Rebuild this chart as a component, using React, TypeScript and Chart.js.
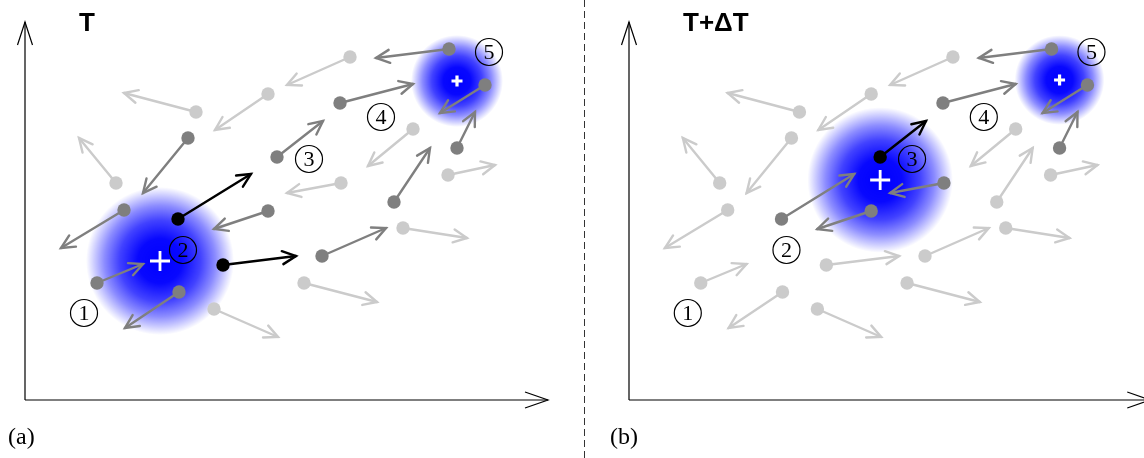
import React, { useEffect, useRef } from "react";
import { Chart, registerables } from "chart.js";

Chart.register(...registerables);

// Shared point positions (data units; origin = axes corner)
const pointX = [32.5, 42.4, 24.3, 17.1, 31.5, 46.0, 38.8, 43.2, 42.3, 36.9, 31.6, 25.2, 16.3, 9.1, 15.3, 24.3, 9.9, 37.8, 29.7, 19.8, 7.2, 15.4, 18.9, 27.9];
const pointY = [34.3, 35.1, 30.6, 28.8, 29.7, 31.5, 27.1, 25.2, 22.5, 19.8, 21.7, 24.3, 26.2, 21.7, 18.1, 18.9, 19.0, 17.2, 14.4, 13.5, 11.7, 10.8, 9.1, 11.7];
// Velocity arrow tips
const tipX = [26.2, 35.1, 19.0, 9.9, 38.8, 41.5, 34.3, 45.0, 47.0, 40.5, 26.2, 29.8, 11.8, 5.4, 22.6, 18.9, 3.6, 44.2, 36.1, 27.1, 11.8, 10.0, 25.3, 35.2];
const tipY = [31.5, 34.2, 27.0, 30.7, 31.6, 28.7, 23.4, 28.8, 23.5, 25.2, 20.7, 27.9, 20.7, 26.2, 22.6, 17.1, 15.2, 16.2, 17.2, 14.4, 13.6, 7.2, 6.3, 9.8];
// Shade of each point at time T and T+ΔT
const shadeA = ["light", "dark", "light", "light", "dark", "dark", "light", "dark", "light", "dark", "light", "dark", "dark", "light", "black", "dark", "dark", "light", "dark", "black", "dark", "dark", "light", "light"];
const shadeB = ["light", "dark", "light", "light", "dark", "dark", "light", "dark", "light", "light", "dark", "black", "light", "light", "dark", "dark", "light", "light", "light", "light", "light", "light", "light", "light"];

// Cluster density blobs
const blobAX = [13.5, 43.2];
const blobAY = [13.9, 31.9];
const blobAR = [7.4, 4.6];
const blobBX = [25.2, 43.2];
const blobBY = [22.0, 32.0];
const blobBR = [7.3, 4.5];

// Circled cluster labels
const labelX = [5.9, 15.8, 28.4, 35.6, 46.4];
const labelY = [8.7, 15.0, 24.1, 28.3, 34.8];
const labelText = ["1", "2", "3", "4", "5"];

const COLORS: Record<string, string> = {
  light: "#cbcbcb",
  dark: "#7f7f7f",
  black: "#000000",
};

type PanelCfg = {
  shades: string[];
  bx: number[];
  by: number[];
  br: number[];
  title: string;
  tag: string;
  tagX: number;
  padLeft: number;
  padRight: number;
  xMax: number;
  separator: boolean;
};

function drawArrowHead(ctx: CanvasRenderingContext2D, x0: number, y0: number, x1: number, y1: number, len: number, ang: number) {
  const a = Math.atan2(y1 - y0, x1 - x0);
  ctx.beginPath();
  ctx.moveTo(x1 - len * Math.cos(a - ang), y1 - len * Math.sin(a - ang));
  ctx.lineTo(x1, y1);
  ctx.lineTo(x1 - len * Math.cos(a + ang), y1 - len * Math.sin(a + ang));
  ctx.stroke();
}

function makePlugin(cfg: PanelCfg) {
  return {
    id: "diagram",
    beforeDatasetsDraw(chart: any) {
      const ctx: CanvasRenderingContext2D = chart.ctx;
      const xs = chart.scales.x;
      const ys = chart.scales.y;
      const px = (v: number) => xs.getPixelForValue(v);
      const py = (v: number) => ys.getPixelForValue(v);
      ctx.save();
      if (cfg.separator) {
        ctx.strokeStyle = "#333";
        ctx.lineWidth = 1;
        ctx.setLineDash([7, 4]);
        const sx = Math.round(px(-4.5)) + 0.5;
        ctx.beginPath();
        ctx.moveTo(sx, 0);
        ctx.lineTo(sx, chart.height);
        ctx.stroke();
        ctx.setLineDash([]);
      }
      for (let i = 0; i < cfg.bx.length; i++) {
        const cx = px(cfg.bx[i]);
        const cy = py(cfg.by[i]);
        const r = px(cfg.br[i]) - px(0);
        const g = ctx.createRadialGradient(cx, cy, 0, cx, cy, r);
        g.addColorStop(0, "rgba(0,0,255,1)");
        g.addColorStop(0.3, "rgba(0,0,255,0.97)");
        g.addColorStop(0.55, "rgba(0,0,255,0.74)");
        g.addColorStop(0.75, "rgba(0,0,255,0.45)");
        g.addColorStop(0.9, "rgba(0,0,255,0.18)");
        g.addColorStop(1, "rgba(0,0,255,0)");
        ctx.fillStyle = g;
        ctx.beginPath();
        ctx.arc(cx, cy, r, 0, Math.PI * 2);
        ctx.fill();
        const big = cfg.br[i] > 6;
        const h = big ? 10 : 5.5;
        ctx.strokeStyle = "#ffffff";
        ctx.lineWidth = big ? 2.8 : 3.2;
        ctx.beginPath();
        ctx.moveTo(cx - h, cy);
        ctx.lineTo(cx + h, cy);
        ctx.moveTo(cx, cy - h);
        ctx.lineTo(cx, cy + h);
        ctx.stroke();
      }
      ctx.strokeStyle = "#000";
      ctx.lineWidth = 1.2;
      const ox = px(0);
      const oy = py(0);
      const ty = py(37.8);
      const tx = px(52.3);
      ctx.beginPath();
      ctx.moveTo(ox, oy);
      ctx.lineTo(ox, ty);
      ctx.moveTo(ox, oy);
      ctx.lineTo(tx, oy);
      ctx.stroke();
      ctx.beginPath();
      ctx.moveTo(ox - 7.5, ty + 23);
      ctx.lineTo(ox, ty);
      ctx.lineTo(ox + 7.5, ty + 23);
      ctx.moveTo(tx - 23, oy - 8);
      ctx.lineTo(tx, oy);
      ctx.lineTo(tx - 23, oy + 8);
      ctx.stroke();
      ctx.lineCap = "round";
      for (let i = 0; i < pointX.length; i++) {
        const c = COLORS[cfg.shades[i]];
        const x0 = px(pointX[i]);
        const y0 = py(pointY[i]);
        const x1 = px(tipX[i]);
        const y1 = py(tipY[i]);
        ctx.strokeStyle = c;
        ctx.lineWidth = 2.4;
        ctx.beginPath();
        ctx.moveTo(x0, y0);
        ctx.lineTo(x1, y1);
        ctx.stroke();
        drawArrowHead(ctx, x0, y0, x1, y1, 15, 0.45);
      }
      ctx.restore();
    },
    afterDatasetsDraw(chart: any) {
      const ctx: CanvasRenderingContext2D = chart.ctx;
      const xs = chart.scales.x;
      const ys = chart.scales.y;
      const px = (v: number) => xs.getPixelForValue(v);
      const py = (v: number) => ys.getPixelForValue(v);
      ctx.save();
      for (let i = 0; i < labelX.length; i++) {
        const cx = px(labelX[i]);
        const cy = py(labelY[i]);
        ctx.strokeStyle = "#000";
        ctx.lineWidth = 1.2;
        ctx.beginPath();
        ctx.arc(cx, cy, 13.5, 0, Math.PI * 2);
        ctx.stroke();
        ctx.fillStyle = "#000";
        ctx.font = "22px 'Liberation Serif', serif";
        ctx.textAlign = "center";
        ctx.textBaseline = "middle";
        ctx.fillText(labelText[i], cx, cy + 1);
      }
      ctx.textAlign = "left";
      ctx.textBaseline = "alphabetic";
      ctx.font = "bold 26px 'Liberation Sans', sans-serif";
      ctx.fillText(cfg.title, px(0) + 54, 31);
      ctx.font = "24px 'Liberation Serif', serif";
      ctx.fillText(cfg.tag, cfg.tagX, 444);
      ctx.restore();
    },
  };
}

function Panel({ cfg }: { cfg: PanelCfg }) {
  const ref = useRef<HTMLCanvasElement | null>(null);
  useEffect(() => {
    if (!ref.current) return;
    const groups = ["light", "dark", "black"];
    const datasets = groups.map((g) => ({
      label: g,
      data: pointX
        .map((x, i) => ({ x, y: pointY[i], s: cfg.shades[i] }))
        .filter((p) => p.s === g)
        .map((p) => ({ x: p.x, y: p.y })),
      backgroundColor: COLORS[g],
      borderWidth: 0,
      pointRadius: 6.7,
      pointHoverRadius: 6.7,
      clip: false as any,
    }));
    const chart = new Chart(ref.current, {
      type: "scatter",
      data: { datasets },
      options: {
        animation: false,
        responsive: false,
        devicePixelRatio: 1,
        events: [],
        layout: { padding: { left: cfg.padLeft, right: cfg.padRight, top: 20, bottom: 58 } },
        plugins: { legend: { display: false }, tooltip: { enabled: false } },
        scales: {
          x: { type: "linear", display: false, min: 0, max: cfg.xMax },
          y: { type: "linear", display: false, min: 0, max: 38 },
        },
      },
      plugins: [makePlugin(cfg)],
    });
    return () => chart.destroy();
  }, [cfg]);
  return <canvas ref={ref} width={572} height={458} style={{ display: "block", width: 572, height: 458 }} />;
}

const cfgA: PanelCfg = {
  shades: shadeA,
  bx: blobAX,
  by: blobAY,
  br: blobAR,
  title: "T",
  tag: "(a)",
  tagX: 8,
  padLeft: 25,
  padRight: 27,
  xMax: 52,
  separator: false,
};

const cfgB: PanelCfg = {
  shades: shadeB,
  bx: blobBX,
  by: blobBY,
  br: blobBR,
  title: "T+ΔT",
  tag: "(b)",
  tagX: 38,
  padLeft: 57,
  padRight: 5,
  xMax: 51,
  separator: true,
};

export default function App() {
  return (
    <div style={{ position: "fixed", left: 0, top: 0, width: 1144, height: 458, display: "flex", background: "#fff", overflow: "hidden" }}>
      <Panel cfg={cfgA} />
      <Panel cfg={cfgB} />
    </div>
  );
}
